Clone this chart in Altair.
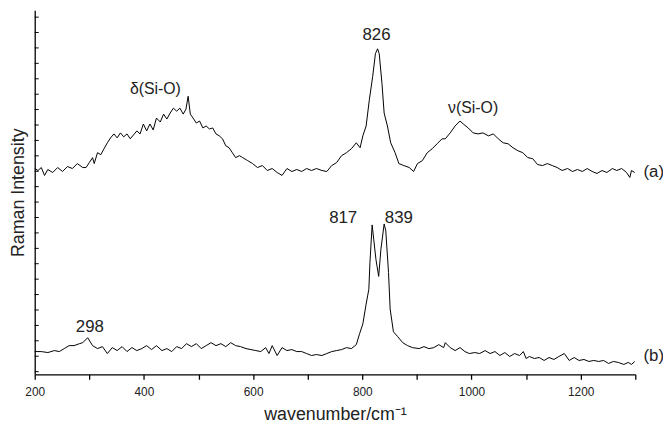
import altair as alt
import pandas as pd

# Trace (a): wavenumber (cm-1) and Raman intensity (a.u.)
wn_a = [200, 206, 212, 218, 224, 233, 242, 251, 260, 269, 278, 288, 294, 300, 306, 309, 315, 321, 327, 333,
        339, 345, 351, 357, 363, 369, 375, 381, 387, 393, 399, 405, 411, 417, 423, 430, 436, 442, 448, 454,
        460, 466, 472, 477, 481, 485, 490, 496, 502, 508, 514, 520, 526, 532, 538, 544, 550, 556, 562, 568,
        575, 581, 590, 599, 608, 617, 626, 635, 644, 653, 662, 671, 680, 689, 698, 707, 716, 726, 735, 744,
        753, 762, 771, 780, 789, 796, 801, 807, 813, 819, 824, 828, 831, 836, 840, 846, 852, 860, 867, 876,
        886, 894, 901, 910, 919, 928, 937, 946, 952, 961, 970, 979, 985, 994, 1003, 1012, 1021, 1031, 1040, 1049,
        1058, 1067, 1076, 1085, 1094, 1103, 1112, 1121, 1130, 1139, 1148, 1157, 1166, 1176, 1185, 1194, 1203, 1212, 1221, 1230,
        1239, 1248, 1258, 1266, 1275, 1284, 1290, 1293, 1299]
int_a = [208, 206, 209, 201, 207, 204, 209, 205, 210, 208, 213, 209, 209, 214, 219, 213, 224, 222, 228, 234,
         239, 243, 239, 244, 240, 243, 238, 242, 246, 243, 253, 246, 253, 247, 259, 255, 263, 258, 264, 269,
         266, 269, 263, 268, 281, 263, 259, 254, 256, 249, 251, 248, 249, 243, 241, 238, 231, 229, 224, 219,
         221, 219, 216, 213, 209, 211, 206, 208, 204, 201, 208, 205, 207, 205, 208, 206, 208, 206, 205, 211,
         214, 221, 224, 228, 234, 229, 241, 251, 278, 301, 324, 329, 324, 294, 264, 251, 234, 224, 213, 211,
         209, 205, 213, 216, 224, 228, 233, 238, 238, 244, 251, 256, 253, 249, 244, 243, 244, 241, 243, 238,
         234, 233, 229, 226, 224, 219, 218, 212, 211, 213, 211, 209, 206, 208, 205, 207, 205, 208, 205, 203,
         206, 204, 208, 206, 208, 204, 199, 206, 204]

# Trace (b)
wn_b = [200, 212, 224, 236, 245, 254, 263, 272, 282, 288, 297, 306, 315, 324, 333, 342, 351, 360, 369, 378,
        387, 396, 405, 414, 423, 433, 442, 451, 460, 469, 478, 487, 496, 505, 514, 523, 532, 541, 550, 559,
        568, 577, 587, 596, 605, 614, 623, 629, 635, 644, 653, 662, 671, 680, 689, 698, 707, 716, 726, 735,
        744, 753, 762, 771, 780, 789, 795, 801, 807, 812, 814, 818, 821, 825, 830, 834, 840, 843, 848, 851,
        857, 865, 874, 883, 892, 904, 913, 922, 931, 940, 949, 952, 961, 970, 979, 988, 996, 1006, 1015, 1025,
        1034, 1043, 1052, 1061, 1070, 1079, 1088, 1095, 1100, 1106, 1115, 1124, 1133, 1142, 1151, 1160, 1170, 1179, 1188, 1197,
        1206, 1215, 1224, 1233, 1242, 1251, 1260, 1269, 1279, 1287, 1293, 1299]
int_b = [23, 23, 22, 24, 23, 26, 29, 29, 31, 32, 37, 29, 26, 28, 21, 27, 24, 28, 23, 27,
         24, 26, 29, 25, 29, 24, 26, 23, 28, 26, 31, 28, 31, 26, 29, 32, 29, 31, 28, 32,
         29, 28, 26, 25, 24, 23, 27, 21, 29, 19, 27, 24, 25, 23, 23, 21, 19, 20, 19, 21,
         23, 24, 25, 27, 26, 30, 41, 51, 71, 86, 113, 151, 136, 116, 99, 126, 152, 145, 103, 66,
         43, 38, 32, 29, 27, 26, 28, 26, 27, 30, 27, 32, 27, 24, 27, 23, 21, 22, 21, 24,
         21, 23, 19, 22, 18, 21, 19, 23, 16, 18, 16, 17, 14, 17, 15, 18, 21, 14, 17, 14,
         15, 13, 14, 13, 14, 11, 13, 12, 10, 12, 10, 13]

# Annotations
ann_text = ["826", "\u03b4(Si-O)", "\u03bd(Si-O)", "817", "839", "298", "(a)", "(b)"]
ann_x = [826, 421, 1003, 765, 867, 301, 1315, 1315]
ann_y = [343, 288, 269, 158, 158, 48, 204, 18]
ann_size = [17, 16, 16, 17, 17, 17, 17, 17]
ann_align = ["center", "center", "center", "center", "center", "center", "left", "left"]

x_ticks = list(range(200, 1301, 100))
y_ticks = [round(2.7 + 15.58 * k, 1) for k in range(24)]

FONT = "Liberation Sans"

df = pd.concat([
    pd.DataFrame({"wn": wn_a, "I": int_a, "s": "a"}),
    pd.DataFrame({"wn": wn_b, "I": int_b, "s": "b"}),
])
ann = pd.DataFrame({"t": ann_text, "x": ann_x, "y": ann_y, "size": ann_size, "align": ann_align})
ydf = pd.DataFrame({"v": y_ticks})

xscale = alt.Scale(domain=[200, 1300], nice=False, zero=False)
yscale = alt.Scale(domain=[0, 368], nice=False, zero=False)

xaxis = alt.Axis(
    values=x_ticks, format="d",
    labelExpr="datum.value % 200 == 0 ? datum.label : ''",
    labelFlush=False, labelOverlap=False,
    grid=False, tickSize=5, tickWidth=1.3, domainWidth=1.3,
    domainColor="black", tickColor="black",
    labelFont=FONT, labelFontSize=12, labelColor="#222",
    labelBaseline="alphabetic", labelPadding=16,
    title="wavenumber/cm\u207b\u00b9", titleFont=FONT, titleFontSize=18,
    titleFontWeight="normal", titleColor="#222",
    titleBaseline="alphabetic", titleY=46,
)
yaxis = alt.Axis(
    grid=False, ticks=False, labels=False, domainWidth=1.3, domainColor="black",
    title="Raman Intensity", titleFont=FONT, titleFontSize=18,
    titleFontWeight="normal", titleColor="#222",
    titleBaseline="alphabetic", titleX=-11, titleY=184, titleAngle=270, titleAlign="center",
)

lines = alt.Chart(df).mark_line(color="black", strokeWidth=1).encode(
    x=alt.X("wn:Q", scale=xscale, axis=xaxis),
    y=alt.Y("I:Q", scale=yscale, axis=yaxis),
    detail="s:N",
)

yt = alt.Chart(ydf).mark_rule(color="black", strokeWidth=1).encode(
    x=alt.value(0), x2=alt.value(4),
    y=alt.Y("v:Q", scale=yscale),
)

texts_c = alt.Chart(ann[ann["align"] == "center"]).mark_text(
    font=FONT, color="#222", baseline="middle", align="center"
).encode(
    x=alt.X("x:Q", scale=xscale), y=alt.Y("y:Q", scale=yscale), text="t:N",
    size=alt.Size("size:Q", scale=None, legend=None),
)
texts_l = alt.Chart(ann[ann["align"] == "left"]).mark_text(
    font=FONT, color="#222", baseline="middle", align="left"
).encode(
    x=alt.X("x:Q", scale=xscale), y=alt.Y("y:Q", scale=yscale), text="t:N",
    size=alt.Size("size:Q", scale=None, legend=None),
)

chart = alt.layer(lines, yt, texts_c, texts_l).properties(
    width=607, height=368,
    autosize=alt.AutoSizeParams(type="none"),
    padding={"left": 27, "right": 28, "top": 0, "bottom": 51},
    background="white",
).configure_view(stroke=None)

chart.save("out.html", embed_options={"renderer": "svg", "actions": False})
